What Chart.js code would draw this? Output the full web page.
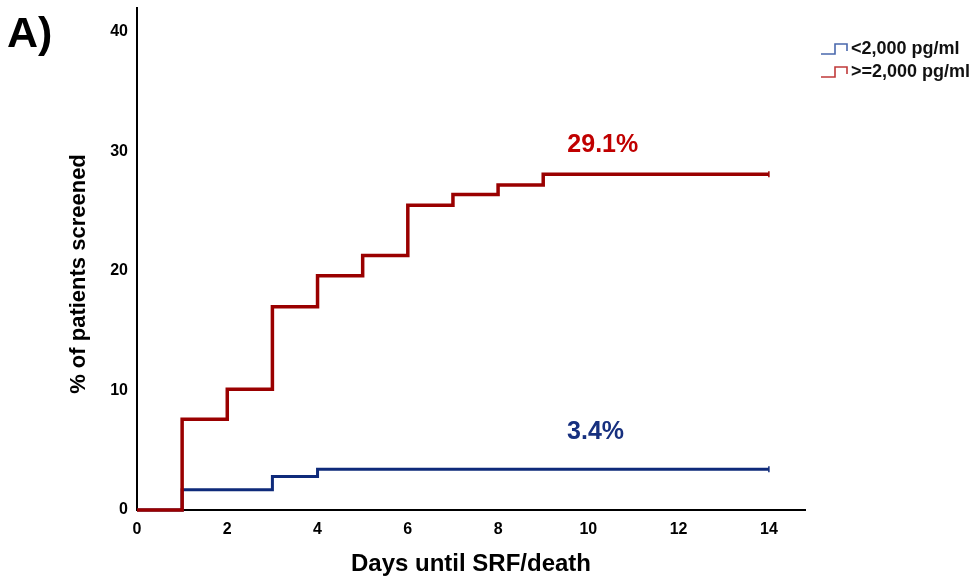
<!DOCTYPE html>
<html>
<head>
<meta charset="utf-8">
<title>Days until SRF/death</title>
<script src="https://cdn.jsdelivr.net/npm/chart.js@4.4.1/dist/chart.umd.min.js"></script>
<style>
  html, body { margin: 0; padding: 0; background: #fff; }
  #wrap { position: relative; width: 977px; height: 581px; }
</style>
</head>
<body>
<div id="wrap"><canvas id="kmChart"></canvas></div>
<script>
// step data (day, cumulative %)
const lowDays = [0, 1, 3, 4, 14];
const lowPct = [0, 1.7, 2.8, 3.4, 3.4];
const highDays = [0, 1, 2, 3, 4, 5, 6, 7, 8, 9, 14];
const highPct = [0, 7.6, 10.1, 17.0, 19.6, 21.3, 25.5, 26.4, 27.2, 28.1, 28.1];

const seriesNames = ['<2,000 pg/ml', '>=2,000 pg/ml'];
const xTicks = [0, 2, 4, 6, 8, 10, 12, 14];
const yTicks = [0, 10, 20, 30, 40];

// end-of-curve labels: text, day, %
const noteText = ['3.4%', '29.1%'];
const noteDay = [10.16, 10.32];
const notePct = [6.5, 30.5];

const FONT = "'Liberation Sans', Arial, sans-serif";
const lowColor = '#0e2a7a';
const highColor = '#9a0000';

function toPoints(xs, ys) {
    return xs.map(function(x, i) { return {x: x, y: ys[i]}; });
}

function endMarks(n) {
    const r = new Array(n).fill(0);
    r[n - 1] = 3;
    return r;
}

// draws "A)", the y title, the step legend and the percentage notes
const extrasPlugin = {
    id: 'extras',
    afterDatasetsDraw(chart) {
        const ctx = chart.ctx;
        const xs = chart.scales.x;
        const ys = chart.scales.y;
        ctx.save();

        ctx.fillStyle = '#000';
        ctx.font = 'bold 43px ' + FONT;
        ctx.textAlign = 'left';
        ctx.textBaseline = 'middle';
        ctx.fillText('A)', 7, 35);

        // y axis title, sits a bit below the middle of the axis
        ctx.save();
        ctx.translate(79, 274);
        ctx.rotate(-Math.PI / 2);
        ctx.font = 'bold 22px ' + FONT;
        ctx.textAlign = 'center';
        ctx.fillText('% of patients screened', 0, 0);
        ctx.restore();

        const noteColors = ['#17307f', '#c00000'];
        ctx.font = 'bold 25px ' + FONT;
        ctx.textAlign = 'center';
        for (let i = 0; i < noteText.length; i++) {
            ctx.fillStyle = noteColors[i];
            ctx.fillText(noteText[i], xs.getPixelForValue(noteDay[i]), ys.getPixelForValue(notePct[i]));
        }

        // legend with little step icons
        const iconColors = ['#4a68ad', '#c03a3a'];
        ctx.font = 'bold 18px ' + FONT;
        ctx.textAlign = 'left';
        for (let i = 0; i < seriesNames.length; i++) {
            const y = 49 + i * 23;
            ctx.strokeStyle = iconColors[i];
            ctx.lineWidth = 1.6;
            ctx.beginPath();
            ctx.moveTo(821, y + 5);
            ctx.lineTo(835, y + 5);
            ctx.lineTo(835, y - 5);
            ctx.lineTo(847, y - 5);
            ctx.lineTo(847, y + 2);
            ctx.stroke();
            ctx.fillStyle = '#111';
            ctx.fillText(seriesNames[i], 851, y);
        }
        ctx.restore();
    }
};

const kmChart = new Chart(document.getElementById('kmChart'), {
    type: 'line',
    data: {
        datasets: [{
            label: seriesNames[1],
            data: toPoints(highDays, highPct),
            borderColor: highColor,
            borderWidth: 3.5,
            stepped: true,
            fill: false,
            pointRadius: endMarks(highDays.length),
            pointStyle: 'line',
            rotation: 90,
            pointBorderColor: highColor,
            pointBorderWidth: 1.5,
            clip: 8,
            order: 0
        }, {
            label: seriesNames[0],
            data: toPoints(lowDays, lowPct),
            borderColor: lowColor,
            borderWidth: 3,
            stepped: true,
            fill: false,
            pointRadius: endMarks(lowDays.length),
            pointStyle: 'line',
            rotation: 90,
            pointBorderColor: lowColor,
            pointBorderWidth: 1.5,
            clip: 8,
            order: 1
        }]
    },
    options: {
        responsive: true,
        maintainAspectRatio: false,
        animation: false,
        layout: {
            padding: { left: 0, right: 172, top: 8, bottom: 0 }
        },
        plugins: {
            legend: { display: false },
            tooltip: { enabled: false }
        },
        scales: {
            x: {
                type: 'linear',
                min: 0,
                max: 14.8,
                afterBuildTicks: function(axis) {
                    axis.ticks = xTicks.map(function(v) { return {value: v}; });
                },
                afterFit: function(axis) { axis.height = 71; },
                grid: { display: false, drawTicks: false },
                border: { display: true, color: '#000', width: 2 },
                ticks: {
                    color: '#000',
                    padding: 10,
                    maxRotation: 0,
                    font: { family: FONT, size: 16, weight: 'bold' }
                },
                title: {
                    display: true,
                    text: 'Days until SRF/death',
                    color: '#000',
                    padding: { top: 0, bottom: 2 },
                    font: { family: FONT, size: 24, weight: 'bold' }
                }
            },
            y: {
                min: 0,
                max: 42,
                afterBuildTicks: function(axis) {
                    axis.ticks = yTicks.map(function(v) { return {value: v}; });
                },
                afterFit: function(axis) {
                    axis.width = 137;
                    axis.paddingTop = 0;
                },
                grid: { display: false, drawTicks: false },
                border: { display: true, color: '#000', width: 2 },
                ticks: {
                    color: '#000',
                    padding: 9,
                    font: { family: FONT, size: 16, weight: 'bold' }
                }
            }
        }
    },
    plugins: [extrasPlugin]
});
</script>
</body>
</html>
